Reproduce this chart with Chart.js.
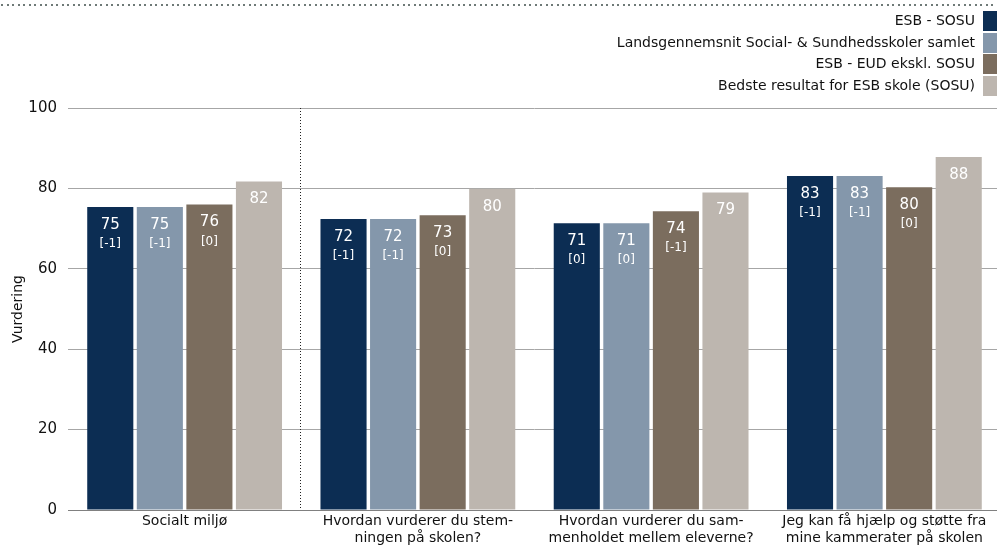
<!DOCTYPE html>
<html>
<head>
<meta charset="utf-8">
<script src="https://cdn.jsdelivr.net/npm/chart.js@4.4.1/dist/chart.umd.min.js"></script>
<style>
  html, body { margin: 0; padding: 0; background: #fff; overflow: hidden; }
  #wrap { position: relative; width: 1001px; height: 552px; }
</style>
</head>
<body>
<div id="wrap"><canvas id="chart"></canvas></div>
<script>
// DATA
const categories = [
    ["Socialt miljø"],
    ["Hvordan vurderer du stem-", "ningen på skolen?"],
    ["Hvordan vurderer du sam-", "menholdet mellem eleverne?"],
    ["Jeg kan få hjælp og støtte fra", "mine kammerater på skolen"]
];
const seriesNames = [
    "ESB - SOSU",
    "Landsgennemsnit Social- & Sundhedsskoler samlet",
    "ESB - EUD ekskl. SOSU",
    "Bedste resultat for ESB skole (SOSU)"
];
const esbSosu = [75.4, 72.4, 71.3, 83.1];
const landsSosu = [75.4, 72.4, 71.3, 83.1];
const esbEud = [76.0, 73.3, 74.3, 80.3];
const bedste = [81.7, 79.9, 79.0, 87.8];
const esbSosuDiff = ["[-1]", "[-1]", "[0]", "[-1]"];
const landsSosuDiff = ["[-1]", "[-1]", "[0]", "[-1]"];
const esbEudDiff = ["[0]", "[0]", "[-1]", "[0]"];
const yTicks = [0, 20, 40, 60, 80, 100];

const colors = ["#0c2d53", "#8497ab", "#7b6d5e", "#bdb6af"];
const FONT = "DejaVu Sans";

// PLUGIN: labels inside the bars
const barLabelPlugin = {
    id: "barLabels",
    afterDatasetsDraw: (chart) => {
        const { ctx } = chart;
        ctx.save();
        ctx.fillStyle = "#ffffff";
        ctx.textAlign = "center";
        ctx.textBaseline = "middle";
        chart.data.datasets.forEach((ds, di) => {
            const meta = chart.getDatasetMeta(di);
            meta.data.forEach((bar, i) => {
                const v = Math.round(ds.data[i]);
                ctx.font = "15px " + FONT;
                ctx.fillText(v, bar.x, bar.y + 18);
                if (ds.diffs) {
                    ctx.font = "12px " + FONT;
                    ctx.fillText(ds.diffs[i], bar.x, bar.y + 37);
                }
            });
        });
        ctx.restore();
    },
};

// PLUGIN: dotted lines + legend on the right
const decorPlugin = {
    id: "decor",
    afterDraw: (chart) => {
        const { ctx, chartArea, scales } = chart;
        ctx.save();
        // top dotted rule
        ctx.fillStyle = "#6f7a78";
        for (let x = 1; x < chart.width; x += 5.5) {
            ctx.fillRect(Math.round(x), 4, 2, 2);
        }
        // separator after first category
        const sx = Math.round((scales.x.getPixelForTick(0) + scales.x.getPixelForTick(1)) / 2) - 0.5;
        ctx.strokeStyle = "#222";
        ctx.lineWidth = 1;
        ctx.setLineDash([1, 2]);
        ctx.beginPath();
        ctx.moveTo(sx, chartArea.top);
        ctx.lineTo(sx, chartArea.bottom);
        ctx.stroke();
        ctx.setLineDash([]);
        // legend
        ctx.font = "14px " + FONT;
        ctx.textAlign = "right";
        ctx.textBaseline = "middle";
        chart.data.datasets.forEach((ds, i) => {
            const y = Math.round(21 + i * 21.7);
            ctx.fillStyle = ds.backgroundColor;
            ctx.fillRect(983, y - 10, 14, 20);
            ctx.fillStyle = "#111";
            ctx.fillText(ds.label, 975, y);
        });
        ctx.restore();
    },
};

const ctx = document.getElementById("chart").getContext("2d");
new Chart(ctx, {
    type: "bar",
    plugins: [barLabelPlugin, decorPlugin],
    data: {
        labels: categories,
        datasets: [
            { label: seriesNames[0], data: esbSosu, diffs: esbSosuDiff, backgroundColor: colors[0] },
            { label: seriesNames[1], data: landsSosu, diffs: landsSosuDiff, backgroundColor: colors[1] },
            { label: seriesNames[2], data: esbEud, diffs: esbEudDiff, backgroundColor: colors[2] },
            { label: seriesNames[3], data: bedste, backgroundColor: colors[3] },
        ],
    },
    options: {
        responsive: true,
        maintainAspectRatio: false,
        animation: false,
        layout: { padding: { top: 108, right: 0, left: 10, bottom: 0 } },
        datasets: { bar: { categoryPercentage: 0.85, barPercentage: 0.93 } },
        plugins: {
            legend: { display: false },
            tooltip: { enabled: false },
        },
        scales: {
            x: {
                afterFit: (axis) => { axis.height = 42; },
                grid: { display: false, drawTicks: false },
                border: { color: "#808080" },
                ticks: { color: "#111", font: { family: FONT, size: 14 }, maxRotation: 0, autoSkip: false, padding: 3 },
            },
            y: {
                min: 0,
                max: 100,
                afterBuildTicks: (axis) => { axis.ticks = yTicks.map(v => ({ value: v })); },
                afterFit: (axis) => { axis.width = 58; },
                grid: { color: "#a6a6a6", tickLength: 0 },
                border: { display: false },
                ticks: { color: "#111", font: { family: FONT, size: 15 }, padding: 11 },
                title: { display: true, text: "Vurdering", color: "#111", font: { family: FONT, size: 14 }, padding: 0 },
            },
        },
    },
});
</script>
</body>
</html>
